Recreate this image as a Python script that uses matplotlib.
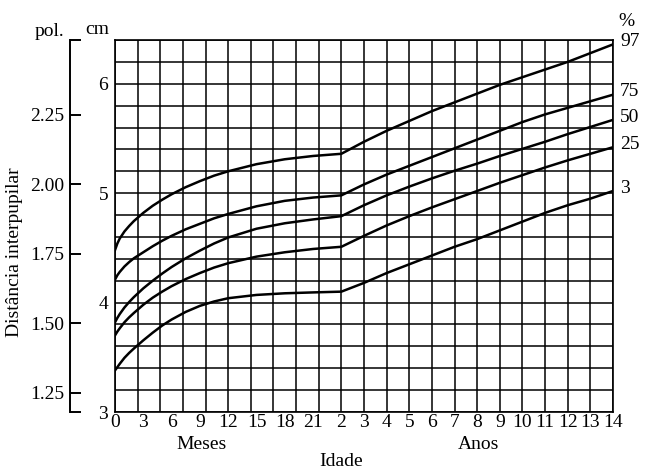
import numpy as np
import matplotlib
matplotlib.use("Agg")
import matplotlib.pyplot as plt

plt.rcParams['font.family'] = ['Liberation Serif', 'DejaVu Serif']

# ---- data (cm) ----
months = [0, 0.25, 0.5, 1, 1.5, 2, 3, 4, 5, 6, 7.5, 9, 10.5, 12, 15, 18, 21, 24]
p97_m = [4.48, 4.54, 4.585, 4.65, 4.70, 4.745, 4.82, 4.885, 4.94, 4.99, 5.055, 5.11, 5.16, 5.20, 5.265, 5.31, 5.34, 5.36]
p75_m = [4.21, 4.25, 4.28, 4.33, 4.37, 4.405, 4.46, 4.515, 4.565, 4.61, 4.67, 4.72, 4.77, 4.81, 4.88, 4.93, 4.96, 4.98]
p50_m = [3.82, 3.86, 3.895, 3.955, 4.005, 4.05, 4.13, 4.20, 4.265, 4.325, 4.405, 4.475, 4.54, 4.595, 4.675, 4.725, 4.76, 4.79]
p25_m = [3.70, 3.735, 3.765, 3.82, 3.865, 3.905, 3.98, 4.045, 4.10, 4.15, 4.215, 4.27, 4.32, 4.36, 4.42, 4.46, 4.49, 4.51]
p3_m = [3.38, 3.41, 3.44, 3.495, 3.54, 3.58, 3.655, 3.725, 3.79, 3.845, 3.915, 3.97, 4.01, 4.04, 4.07, 4.085, 4.093, 4.10]

years = [2, 3, 4, 5, 6, 7, 8, 9, 10, 11, 12, 13, 14]
p97_y = [5.36, 5.47, 5.57, 5.66, 5.75, 5.83, 5.91, 5.99, 6.06, 6.13, 6.20, 6.28, 6.36]
p75_y = [4.98, 5.08, 5.17, 5.25, 5.33, 5.41, 5.49, 5.57, 5.65, 5.72, 5.78, 5.84, 5.90]
p50_y = [4.79, 4.89, 4.98, 5.06, 5.135, 5.205, 5.27, 5.34, 5.405, 5.47, 5.54, 5.605, 5.67]
p25_y = [4.51, 4.61, 4.705, 4.79, 4.87, 4.945, 5.02, 5.095, 5.165, 5.235, 5.30, 5.36, 5.42]
p3_y = [4.10, 4.18, 4.27, 4.35, 4.43, 4.51, 4.58, 4.66, 4.74, 4.82, 4.89, 4.95, 5.02]

percentiles = ["97", "75", "50", "25", "3"]
month_labels = [0, 3, 6, 9, 12, 15, 18, 21]
year_labels = [2, 3, 4, 5, 6, 7, 8, 9, 10, 11, 12, 13, 14]
cm_ticks = [3, 4, 5, 6]
inch_ticks = [1.25, 1.50, 1.75, 2.00, 2.25]

FS = 14


def pos_m(m):
    return np.asarray(m, dtype=float) / 2.4


def pos_y(y):
    return 10 + (np.asarray(y, dtype=float) - 2)


fig = plt.figure(figsize=(6.5, 4.73), dpi=100)
ax = fig.add_axes([115 / 650, 1 - 412 / 473, 498 / 650, 372 / 473])
ax.set_xlim(0, 22)
ax.set_ylim(3, 6.4)

# grid
for v in np.arange(0, 23):
    ax.axvline(v, color='black', lw=1.1, zorder=1)
for h in np.arange(3, 6.41, 0.2):
    ax.axhline(h, color='black', lw=1.1, zorder=1)
for s in ax.spines.values():
    s.set_linewidth(1.2)

series = [(p97_m, p97_y), (p75_m, p75_y), (p50_m, p50_y), (p25_m, p25_y), (p3_m, p3_y)]
for (vm, vy), lab in zip(series, percentiles):
    xs = np.concatenate([pos_m(months), pos_y(years)[1:]])
    ys = np.concatenate([vm, vy[1:]])
    ax.plot(xs, ys, color='black', lw=1.8, zorder=3, solid_joinstyle='round')
    ax.annotate(lab, xy=(22, vy[-1]), xytext=(5, 2), textcoords='offset points',
                ha='left', va='center', fontsize=FS, annotation_clip=False)

# x ticks
xt = list(pos_m(month_labels)) + list(pos_y(year_labels))
xl = [str(m) for m in month_labels] + [str(y) for y in year_labels]
ax.set_xticks(xt)
ax.set_xticklabels(xl)
ax.tick_params(axis='x', which='major', length=0, pad=1.5, labelsize=FS)
ax.set_xticks(pos_m([3, 6, 9, 15, 18, 21]), minor=True)
ax.tick_params(axis='x', which='minor', direction='in', length=6, width=1.0)

# cm ticks
ax.set_yticks(cm_ticks)
ax.set_yticklabels([str(c) for c in cm_ticks])
ax.tick_params(axis='y', which='major', length=0, pad=5, labelsize=FS)

# inch axis
sec = ax.secondary_yaxis(-45 / 498, functions=(lambda c: c / 2.54, lambda i: i * 2.54))
sec.set_yticks(inch_ticks)
sec.set_yticklabels(["%.2f" % t for t in inch_ticks])
sec.set_yticks([3 / 2.54, 6.4 / 2.54], minor=True)
sec.tick_params(which='both', direction='in', length=8, width=1.4, pad=4, labelsize=FS)
sec.spines['left'].set_linewidth(1.4)

# texts
fig.text(49 / 650, 1 - 31 / 473, "pol.", ha='center', va='center', fontsize=FS)
fig.text(97 / 650, 1 - 30 / 473, "cm", ha='center', va='center', fontsize=FS)
fig.text(626 / 650, 1 - 21 / 473, "%", ha='center', va='center', fontsize=FS)
fig.text(15 / 650, 1 - 252 / 473, "Distância interpupilar", rotation=90,
         ha='center', va='center', fontsize=FS)
fig.text(202 / 650, 1 - 444 / 473, "Meses", ha='center', va='center', fontsize=FS)
fig.text(478 / 650, 1 - 444 / 473, "Anos", ha='center', va='center', fontsize=FS)
fig.text(341 / 650, 1 - 461 / 473, "Idade", ha='center', va='center', fontsize=FS)

fig.savefig("out.png", dpi=100, facecolor='white')
